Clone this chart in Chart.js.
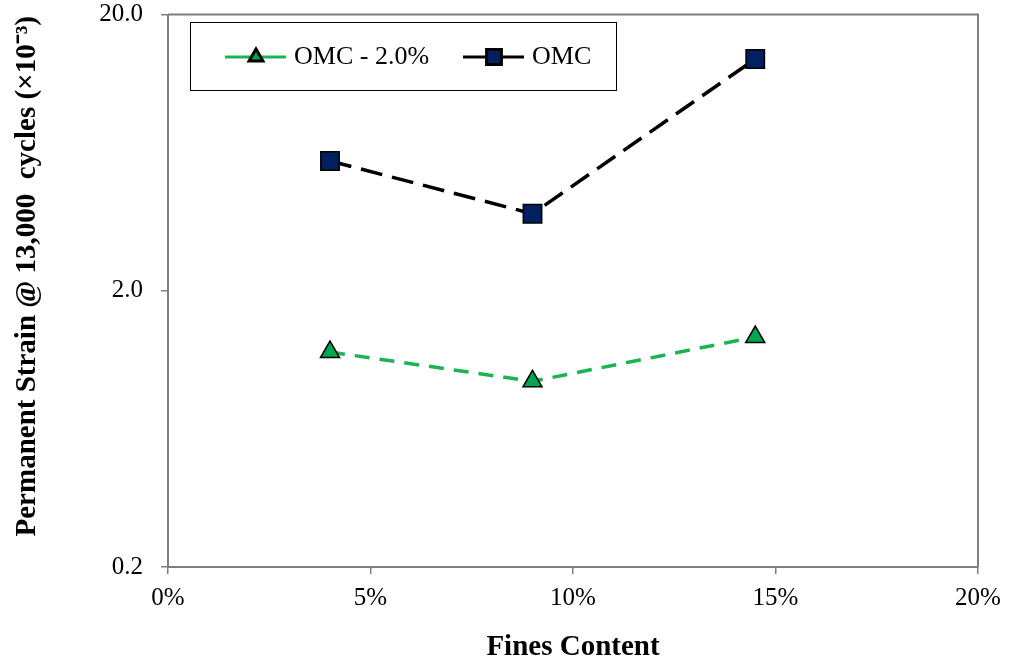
<!DOCTYPE html>
<html lang="en">
<head>
    <meta charset="UTF-8">
    <title>Permanent Strain vs Fines Content</title>
    <script src="https://cdn.jsdelivr.net/npm/chart.js@4.4.1/dist/chart.umd.min.js"></script>
    <style>
        html, body { margin: 0; padding: 0; background: white; }
        .Chart-Container { width: 1011px; height: 665px; }
    </style>
</head>
<body>
    <div class="Chart-Container">
        <canvas id="strainChart"></canvas>
    </div>
<script>
    // fines content (%) and permanent strain (x10^-3) at 13,000 cycles
    var finesContent = [4, 9, 14.5];
    var strainDry = [1.20, 0.94, 1.36];
    var strainOmc = [5.9, 3.8, 13.8];
    var yTicks = [0.2, 2, 20];
    var xTicks = [0, 5, 10, 15, 20];

    var serif = "'Liberation Serif', 'Times New Roman', serif";

    // frame round the plot area plus the boxed legend in its top left corner
    var frameAndLegend = {
        id: 'frameAndLegend',
        afterDraw(chart) {
            var ctx = chart.ctx;
            var a = chart.chartArea;
            ctx.save();
            ctx.strokeStyle = '#7f7f7f';
            ctx.lineWidth = 2;
            ctx.beginPath();
            ctx.moveTo(a.left, a.top);
            ctx.lineTo(a.right, a.top);
            ctx.lineTo(a.right, a.bottom);
            ctx.stroke();

            var box = { x: 190, y: 22, w: 426, h: 68 };
            ctx.fillStyle = 'white';
            ctx.fillRect(box.x, box.y, box.w, box.h);
            ctx.strokeStyle = 'black';
            ctx.lineWidth = 1;
            ctx.strokeRect(box.x + 0.5, box.y + 0.5, box.w, box.h);

            var starts = [225, 463];
            var cy = box.y + 35;
            chart.data.datasets.forEach(function(ds, i) {
                var x0 = starts[i];
                ctx.strokeStyle = ds.borderColor;
                ctx.lineWidth = 3;
                ctx.setLineDash([]);
                ctx.beginPath();
                ctx.moveTo(x0, cy);
                ctx.lineTo(x0 + 61, cy);
                ctx.stroke();
                ctx.fillStyle = ds.pointBackgroundColor;
                ctx.strokeStyle = ds.pointBorderColor;
                Chart.helpers.drawPoint(ctx, { pointStyle: ds.pointStyle, radius: ds.legendRadius, borderWidth: 1.2 }, x0 + 31, cy);
                ctx.fillStyle = 'black';
                ctx.font = "26px " + serif;
                ctx.textBaseline = 'middle';
                ctx.textAlign = 'left';
                ctx.fillText(ds.label, x0 + 69, cy);
            });
            ctx.restore();
        }
    };

    var ctx = document.getElementById('strainChart').getContext('2d');
    var strainChart = new Chart(ctx, {
        type: 'line',
        data: {
            labels: finesContent,
            datasets: [
                {
                    label: 'OMC - 2.0%',
                    data: finesContent.map((x, i) => ({ x: x, y: strainDry[i] })),
                    borderColor: '#1eb352',
                    borderWidth: 3.5,
                    borderDash: [15, 10],
                    pointStyle: 'triangle',
                    pointRadius: 11,
                    legendRadius: 8,
                    pointBackgroundColor: '#00a650',
                    pointBorderColor: 'black',
                    pointBorderWidth: 1.5,
                    tension: 0
                },
                {
                    label: 'OMC',
                    data: finesContent.map((x, i) => ({ x: x, y: strainOmc[i] })),
                    borderColor: 'black',
                    borderWidth: 3.5,
                    borderDash: [22, 10],
                    pointStyle: 'rect',
                    pointRadius: 13,
                    legendRadius: 10.5,
                    pointBackgroundColor: '#002060',
                    pointBorderColor: 'black',
                    pointBorderWidth: 1.5,
                    tension: 0
                }
            ]
        },
        options: {
            animation: { duration: 0 },
            responsive: true,
            maintainAspectRatio: false,
            layout: { padding: { top: 14, right: 33, bottom: 0, left: 0 } },
            plugins: {
                legend: { display: false },
                tooltip: { enabled: false }
            },
            scales: {
                x: {
                    type: 'linear',
                    min: 0,
                    max: 20,
                    afterBuildTicks: scale => { scale.ticks = xTicks.map(v => ({ value: v })); },
                    afterFit: scale => {
                        scale.height = 98;
                        scale.paddingLeft = 0;
                        scale.paddingRight = 0;
                    },
                    border: { display: true, color: '#7f7f7f', width: 2 },
                    grid: { drawOnChartArea: false, drawTicks: true, tickLength: 7, color: '#7f7f7f', lineWidth: 1.5 },
                    ticks: {
                        padding: 9,
                        color: 'black',
                        font: { family: serif, size: 25 },
                        callback: v => v + '%'
                    },
                    title: {
                        display: true,
                        text: 'Fines Content',
                        color: 'black',
                        font: { family: serif, size: 29, weight: 'bold' },
                        padding: { top: 0, bottom: 0 }
                    }
                },
                y: {
                    type: 'logarithmic',
                    min: 0.2,
                    max: 20,
                    afterBuildTicks: scale => { scale.ticks = yTicks.map(v => ({ value: v })); },
                    afterFit: scale => {
                        scale.width = 168;
                        scale.paddingTop = 0;
                        scale.paddingBottom = 0;
                    },
                    border: { display: true, color: '#7f7f7f', width: 2 },
                    grid: { drawOnChartArea: false, drawTicks: true, tickLength: 7, color: '#7f7f7f', lineWidth: 1.5 },
                    ticks: {
                        padding: 18,
                        color: 'black',
                        font: { family: serif, size: 25 },
                        callback: v => Number(v).toFixed(1)
                    },
                    title: {
                        display: true,
                        // leading spaces nudge the rotated title towards the top
                        text: '    Permanent Strain @ 13,000  cycles (×10⁻³)',
                        color: 'black',
                        font: { family: serif, size: 29, weight: 'bold' },
                        padding: { top: 10, bottom: 0 }
                    }
                }
            }
        },
        plugins: [frameAndLegend]
    });
</script>
</body>
</html>
